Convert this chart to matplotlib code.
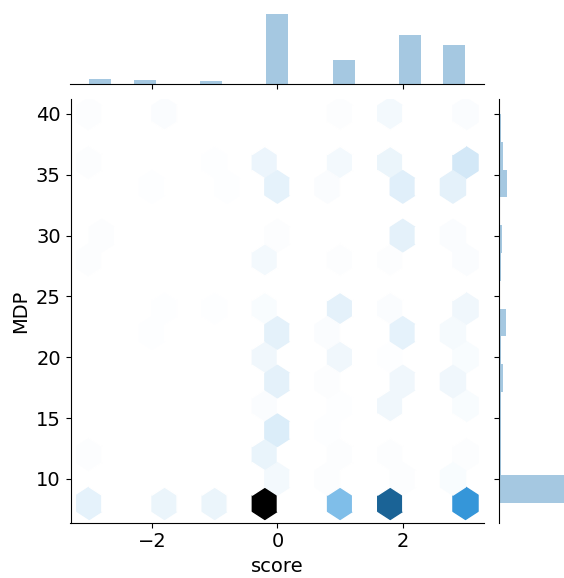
import colorsys

import numpy as np
import matplotlib
matplotlib.use("Agg")
import matplotlib.pyplot as plt
from matplotlib.colors import to_rgb, LinearSegmentedColormap
from matplotlib.ticker import MultipleLocator

# score values (columns) and MDP values (rows) with the number of observations
scores = [-3, -2, -1, 0, 1, 2, 3]
mdp_levels = [8, 10, 12, 14, 16, 18, 20, 22, 23, 24.5, 28, 30, 34, 35, 36, 40]
counts = [
    [21, 16, 17, 340, 100, 222, 160],   # 8
    [0, 0, 0, 10, 3, 3, 6],             # 10
    [3, 0, 0, 18, 3, 3, 3],             # 12
    [0, 0, 0, 28, 2, 0, 0],             # 14
    [0, 0, 0, 4, 2, 12, 6],             # 16
    [0, 0, 0, 22, 3, 12, 12],           # 18
    [0, 0, 0, 12, 12, 2, 6],            # 20
    [0, 2, 0, 22, 5, 20, 8],            # 22
    [0, 0, 2, 0, 22, 0, 12],            # 23
    [0, 2, 0, 6, 0, 5, 0],              # 24.5
    [3, 0, 0, 10, 3, 3, 4],             # 28
    [3, 0, 0, 3, 0, 22, 5],             # 30
    [0, 2, 2, 20, 4, 25, 22],           # 34
    [0, 0, 0, 0, 0, 0, 25],             # 35
    [3, 0, 2, 15, 10, 17, 10],          # 36
    [3, 5, 0, 0, 3, 10, 4],             # 40
]

x_label = "score"
y_label = "MDP"


def build_samples():
    c = np.array(counts)
    xs = np.repeat(np.tile(scores, len(mdp_levels)), c.ravel())
    ys = np.repeat(np.repeat(mdp_levels, len(scores)), c.ravel())
    return xs.astype(float), ys.astype(float)


def hex_cmap(color="#1f77b4"):
    # white -> color -> black, like the old seaborn jointplot
    h, l, s = colorsys.rgb_to_hls(*to_rgb(color))
    colors = [colorsys.hls_to_rgb(h, li, s) for li in np.linspace(1, 0, 12)]
    return LinearSegmentedColormap.from_list("blend", colors)


def main():
    x, y = build_samples()
    W, H = 564, 578
    fig = plt.figure(figsize=(W / 100, H / 100), dpi=100)

    ax = fig.add_axes([70.5 / W, (H - 522.7) / H, 413.8 / W, 423.4 / H])
    ax_top = fig.add_axes([70.5 / W, (H - 83.7) / H, 413.8 / W, 73.2 / H], sharex=ax)
    ax_right = fig.add_axes([499 / W, (H - 522.7) / H, 73.2 / W, 423.4 / H], sharey=ax)

    ax.hexbin(x, y, gridsize=15, cmap=hex_cmap())
    ax_top.hist(x, bins=17, color="C0", alpha=0.4)
    ax_right.hist(y, bins=14, color="C0", alpha=0.4, orientation="horizontal")

    ax.set_xlim(-3.3, 3.3)
    ax.set_ylim(6.4, 41.2)
    ax.xaxis.set_major_locator(MultipleLocator(2))
    ax.yaxis.set_major_locator(MultipleLocator(5))
    ax.set_xlabel(x_label, fontsize=14)
    ax.set_ylabel(y_label, fontsize=14)
    ax.tick_params(labelsize=14)
    for side in ("top", "right"):
        ax.spines[side].set_visible(False)

    for side in ("top", "right", "left"):
        ax_top.spines[side].set_visible(False)
    ax_top.tick_params(axis="x", labelbottom=False)
    ax_top.tick_params(axis="y", left=False, labelleft=False)

    for side in ("top", "right", "bottom"):
        ax_right.spines[side].set_visible(False)
    ax_right.tick_params(axis="y", labelleft=False)
    ax_right.tick_params(axis="x", bottom=False, labelbottom=False)

    fig.savefig("out.png", dpi=100)


if __name__ == '__main__':
    main()
